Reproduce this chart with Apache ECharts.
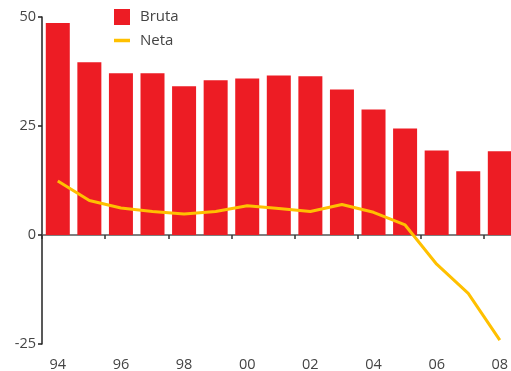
<!DOCTYPE html>
<html>
<head>
<meta charset="utf-8">
<style>
  html, body { margin: 0; padding: 0; background: #fff; }
  #chart { width: 511px; height: 371px; }
</style>
<script src="https://cdn.jsdelivr.net/npm/echarts@6/dist/echarts.min.js"></script>
</head>
<body>
<div id="chart"></div>
<script>
// Years (two-digit labels)
const years = ['94', '95', '96', '97', '98', '99', '00', '01', '02', '03', '04', '05', '06', '07', '08'];
// Gross series (bars)
const bruta = [48.6, 39.6, 37.1, 37.1, 34.1, 35.5, 35.9, 36.6, 36.4, 33.4, 28.8, 24.4, 19.4, 14.6, 19.2];
// Net series (line)
const neta = [12.4, 7.9, 6.2, 5.4, 4.8, 5.4, 6.7, 6.1, 5.4, 7.0, 5.2, 2.3, -6.7, -13.4, -24.1];
// Value-axis range
const yMin = -25, yMax = 50, yStep = 25;

const font = 'Open Sans';
const chart = echarts.init(document.getElementById('chart'), null, { renderer: 'canvas' });

chart.setOption({
  animation: false,
  backgroundColor: '#ffffff',
  textStyle: { fontFamily: font },
  grid: { left: 42, top: 17, width: 473.6, height: 327, outerBoundsMode: 'none', containLabel: false },
  legend: {
    orient: 'vertical',
    left: 109,
    top: 4,
    itemWidth: 16,
    itemHeight: 16,
    itemGap: 8,
    textStyle: { fontFamily: font, fontSize: 15, color: '#444', padding: [0, 0, 0, 5] },
    data: [
      { name: 'Bruta', icon: 'rect' },
      { name: 'Neta', icon: 'path://M0,0 L16,0 L16,3.5 L0,3.5 Z' }
    ]
  },
  xAxis: [
    {
      // year labels along the bottom edge
      type: 'category',
      data: years,
      position: 'bottom',
      axisLine: { show: false, onZero: false },
      axisTick: { show: false },
      axisLabel: { interval: 1, margin: 13, fontSize: 14.5, color: '#444', fontFamily: font },
      splitLine: { show: false }
    },
    {
      // baseline at zero with downward ticks
      type: 'category',
      data: years,
      position: 'top',
      axisLine: { show: true, onZero: true, lineStyle: { color: '#555', width: 1.5 } },
      axisTick: { show: true, inside: true, interval: 1, length: 4, lineStyle: { color: '#333', width: 1.5 } },
      axisLabel: { show: false },
      splitLine: { show: false }
    }
  ],
  yAxis: {
    type: 'value',
    min: yMin,
    max: yMax,
    interval: yStep,
    axisLine: { show: true, lineStyle: { color: '#222', width: 1.5 } },
    axisTick: { show: true, length: 4, lineStyle: { color: '#222', width: 1.5 } },
    axisLabel: { fontSize: 14.5, color: '#444', margin: 6, fontFamily: font },
    splitLine: { show: false }
  },
  series: [
    {
      name: 'Bruta',
      type: 'bar',
      xAxisIndex: 0,
      data: bruta,
      barWidth: 24,
      itemStyle: { color: '#ED1C24' },
      z: 2
    },
    {
      name: 'Neta',
      type: 'line',
      xAxisIndex: 0,
      data: neta,
      symbol: 'none',
      smooth: false,
      lineStyle: { color: '#FFC000', width: 3, join: 'round' },
      itemStyle: { color: '#FFC000' },
      z: 3
    }
  ]
});
</script>
</body>
</html>
